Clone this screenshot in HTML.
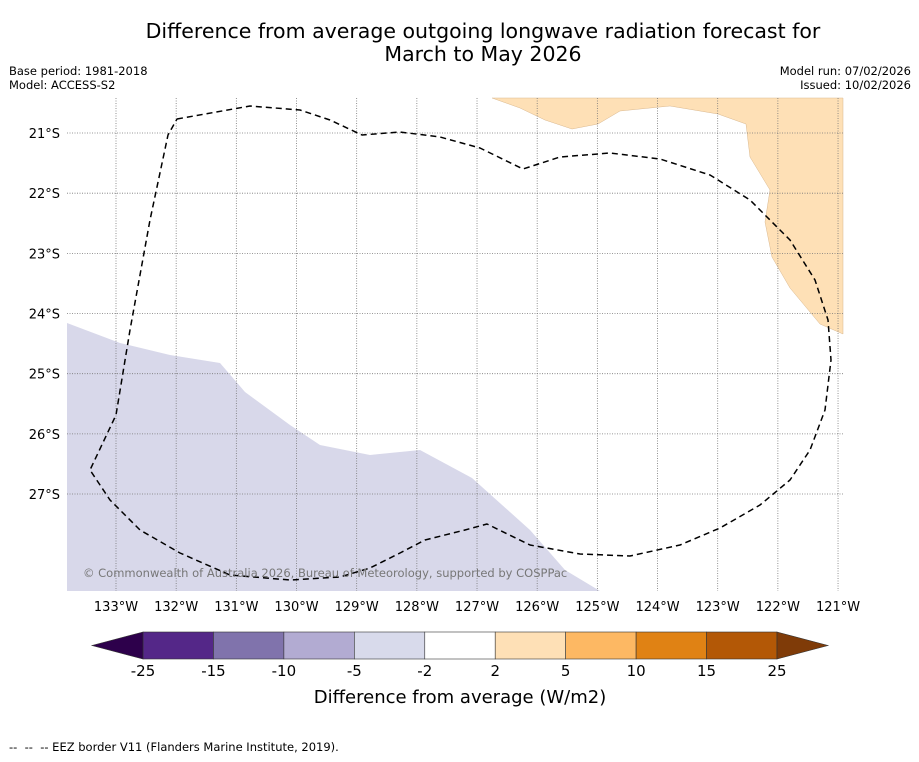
<!DOCTYPE html>
<html><head><meta charset="utf-8"><style>
body{margin:0;background:#fff;width:919px;height:758px;overflow:hidden;font-family:"DejaVu Sans","Liberation Sans",sans-serif}
svg text{font-family:"DejaVu Sans","Liberation Sans",sans-serif}
</style></head><body>
<svg id="c" width="919" height="758" xmlns="http://www.w3.org/2000/svg">
<text x="483" y="38" font-size="20.5" text-anchor="middle">Difference from average outgoing longwave radiation forecast for</text>
<text x="483" y="61" font-size="20.5" text-anchor="middle">March to May 2026</text>
<text x="9" y="75" font-size="11.5">Base period: 1981-2018</text>
<text x="9" y="89" font-size="11.5">Model: ACCESS-S2</text>
<text x="911" y="75" font-size="11.5" text-anchor="end">Model run: 07/02/2026</text>
<text x="911" y="89" font-size="11.5" text-anchor="end">Issued: 10/02/2026</text>
<g id="map">
<polygon fill="#d8d8ea" points="67,323 120,343 170,355 220,363 245,392 290,425 320,445 370,455 420,450 472,478 530,530 565,570 600,591 67,591"/>
<polygon fill="#fee0b6" stroke="#d9b88f" stroke-width="0.5" points="492,98 520,108 545,120 572,129 598,124 620,111 670,106 718,114 746,124 750,157 770,190 765,222 772,257 790,288 820,324 843,334 843,98"/>
<g id="grid"></g>
<polyline fill="none" stroke="#000" stroke-width="1.5" stroke-dasharray="6,4" stroke-linejoin="round" points="177,119 250,106 300,110 330,120 362,135 400,132 440,137 480,148 523,169 560,157 610,153 660,159 710,175 750,200 790,240 815,280 828,320 831,360 825,410 810,450 790,480 760,505 720,528 680,545 630,556 580,554 530,545 487,524 465,530 425,540 400,553 370,568 340,577 290,580 230,575 180,553 140,530 110,500 90,470 116,415 130,330 150,220 168,135 177,119"/>
<text x="83" y="577" font-size="11.5" fill="#777">© Commonwealth of Australia 2026, Bureau of Meteorology, supported by COSPPac</text>
</g>
<g id="cbar"></g>
<text x="460" y="703" font-size="18" text-anchor="middle">Difference from average (W/m2)</text>
<text x="9" y="751" font-size="11.5" xml:space="preserve">--  --  -- EEZ border V11 (Flanders Marine Institute, 2019).</text>
</svg>
<script>
const lonTicks=[133,132,131,130,129,128,127,126,125,124,123,122,121];
const latTicks=[21,22,23,24,25,26,27];
const cbLevels=["-25","-15","-10","-5","-2","2","5","10","15","25"];
const cbColors=["#542788","#8073ac","#b2abd2","#d8daeb","#ffffff","#fee0b6","#fdb863","#e08214","#b35806"];
const NS="http://www.w3.org/2000/svg";
const svg=document.getElementById('c');
const grid=document.getElementById('grid');
const xLon=l=>116+(133-l)*60.17;
const yLat=l=>133+(l-21)*60.17;
function mk(t,a,p){const e=document.createElementNS(NS,t);for(const k in a)e.setAttribute(k,a[k]);p.appendChild(e);return e;}
lonTicks.forEach(l=>{
 const x=xLon(l);
 const ln=mk('line',{x1:x,x2:x,y1:98,y2:591,stroke:'#777','stroke-width':0.8,'stroke-dasharray':'1,1.5'},grid);
 
 
 const t=mk('text',{x:x,y:611,'font-size':13,'text-anchor':'middle'},svg);
 t.textContent=l+'°W';
 
 
});
latTicks.forEach(l=>{
 const y=yLat(l);
 const ln=mk('line',{x1:67,x2:843,y1:y,y2:y,stroke:'#777','stroke-width':0.8,'stroke-dasharray':'1,1.5'},grid);
 
 
 const t=mk('text',{x:60,y:y+5,'font-size':13,'text-anchor':'end'},svg);
 t.textContent=l+'°S';
 
 
});
const cb=document.getElementById('cbar');
const x0=143,x1=777,y0=632,y1=659,w=(x1-x0)/cbColors.length;
cbColors.forEach((c,i)=>{
 const r=mk('rect',{x:x0+i*w,y:y0,width:w,height:y1-y0,fill:c,stroke:'#333','stroke-width':0.6},cb);
 
 
});
const lt=mk('polygon',{points:`${x0},${y0} 92,${(y0+y1)/2} ${x0},${y1}`,fill:'#2d004b',stroke:'#333','stroke-width':0.6},cb);


const rt=mk('polygon',{points:`${x1},${y0} 828,${(y0+y1)/2} ${x1},${y1}`,fill:'#7f3b08',stroke:'#333','stroke-width':0.6},cb);


cbLevels.forEach((s,i)=>{
 const t=mk('text',{x:x0+i*w,y:676,'font-size':15,'text-anchor':'middle'},cb);
 t.textContent=s;
 
 
});
</script>
</body></html>
